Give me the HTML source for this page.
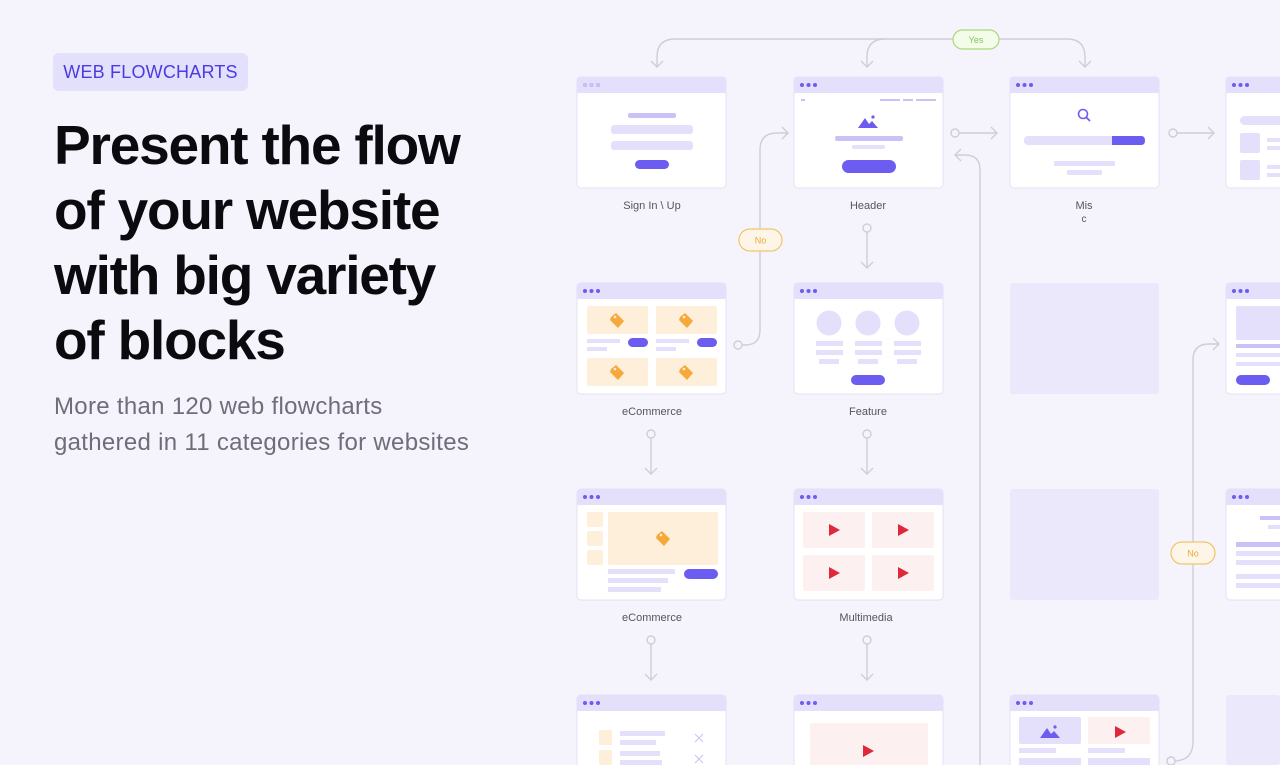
<!DOCTYPE html>
<html><head><meta charset="utf-8">
<style>
html,body{margin:0;padding:0;width:1280px;height:765px;overflow:hidden;}
body{background:#f5f4fd;position:relative;font-family:"Liberation Sans",sans-serif;}
.badge{position:absolute;left:53px;top:53px;width:195px;height:38px;background:#e3e0fb;border-radius:6px;color:#4a3be2;font-size:18px;line-height:38px;text-align:center;letter-spacing:0.2px;}
h1{position:absolute;left:54px;top:113px;margin:0;font-size:55px;line-height:65px;font-weight:bold;color:#0b0b0f;letter-spacing:-1.2px;white-space:nowrap;}
.sub{position:absolute;left:54px;top:389px;font-size:24px;line-height:36px;color:#6e6d7a;letter-spacing:0.3px;white-space:nowrap;}
svg{position:absolute;left:0;top:0;overflow:hidden;}
</style></head><body>
<div class="badge">WEB FLOWCHARTS</div>
<h1>Present the flow<br>of your website<br>with big variety<br>of blocks</h1>
<div class="sub">More than 120 web flowcharts<br>gathered in 11 categories for websites</div>
<svg width="1280" height="765" viewBox="0 0 1280 765" xmlns="http://www.w3.org/2000/svg" font-family="Liberation Sans, sans-serif">
<defs>
<g id="frame"><rect x="0" y="0" width="149" height="111" rx="4" fill="#fff" stroke="#e4e1f3"/><path d="M4 0 H145 Q149 0 149 4 V16 H0 V4 Q0 0 4 0Z" fill="#e4e0fb"/><circle cx="8" cy="8" r="2" fill="#6c5cf0"/><circle cx="14.5" cy="8" r="2" fill="#6c5cf0"/><circle cx="21" cy="8" r="2" fill="#6c5cf0"/></g>
<g id="tag2"><path d="M-6,-4 L-1,-8 L7,0 L1,7 L-7,-1 Z" fill="#f6a83a"/><circle cx="-2" cy="-4" r="1.3" fill="#fdefd9"/></g>
<g id="play2"><path d="M-5,-6 L6,0 L-5,6 Z" fill="#e0283b"/></g>
<g id="mtn2"><path d="M-10,6 L-3,-4 L1,2 L4,-1 L10,6 Z" fill="#6c5cf0"/><circle cx="5" cy="-5" r="1.6" fill="#6c5cf0"/></g>
</defs>
<g fill="none" stroke="#cfcdd8" stroke-width="1.4">
<path d="M953 39 H675 Q657 39 657 57 V67"/><path d="M651 61 L657 67 L663 61"/>
<path d="M885 39 Q867 39 867 57 V67"/><path d="M861 61 L867 67 L873 61"/>
<path d="M999 39 H1067 Q1085 39 1085 57 V67"/><path d="M1079 61 L1085 67 L1091 61"/>
<path d="M959 133 H997"/><path d="M991 127 L997 133 L991 139"/>
<path d="M1177 133 H1214"/><path d="M1208 127 L1214 133 L1208 139"/>
<path d="M955 155 H965 Q980 155 980 170 V765"/><path d="M961 149 L955 155 L961 161"/>
<path d="M742 345 H745 Q760 345 760 330 V150 Q760 133 777 133 H788"/><path d="M782 127 L788 133 L782 139"/>
<path d="M867 232 V268"/><path d="M861 262 L867 268 L873 262"/>
<path d="M651 438 V474"/><path d="M645 468 L651 474 L657 468"/>
<path d="M867 438 V474"/><path d="M861 468 L867 474 L873 468"/>
<path d="M651 644 V680"/><path d="M645 674 L651 680 L657 674"/>
<path d="M867 644 V680"/><path d="M861 674 L867 680 L873 674"/>
<path d="M1175 761 Q1193 760 1193 742 V360 Q1193 344 1209 344 H1219"/><path d="M1213 338 L1219 344 L1213 350"/>
</g>
<g fill="#f5f4fd" stroke="#cfcdd8" stroke-width="1.4">
<circle cx="955" cy="133" r="4"/><circle cx="1173" cy="133" r="4"/><circle cx="738" cy="345" r="4"/>
<circle cx="867" cy="228" r="4"/><circle cx="651" cy="434" r="4"/><circle cx="867" cy="434" r="4"/>
<circle cx="651" cy="640" r="4"/><circle cx="867" cy="640" r="4"/><circle cx="1171" cy="761" r="4"/>
</g>
<rect x="953" y="30" width="46" height="19" rx="9.5" fill="#f3fbe9" stroke="#a8d97a" stroke-width="1.2"/>
<text x="976" y="43" font-size="9" fill="#8cc45a" text-anchor="middle">Yes</text>
<rect x="739" y="229" width="43" height="22" rx="11" fill="#fdf6e8" stroke="#f2c46a" stroke-width="1.2"/>
<text x="760.5" y="243.5" font-size="9" fill="#e8a93a" text-anchor="middle">No</text>
<rect x="1171" y="542" width="44" height="22" rx="11" fill="#fdf6e8" stroke="#f2c46a" stroke-width="1.2"/>
<text x="1193" y="556.5" font-size="9" fill="#e8a93a" text-anchor="middle">No</text>
<rect x="1010" y="283" width="149" height="111" rx="3" fill="#ebe8fc"/>
<rect x="1010" y="489" width="149" height="111" rx="3" fill="#ebe8fc"/>
<rect x="1226" y="695" width="54" height="70" rx="3" fill="#ebe8fc"/>

<g transform="translate(577,77)"><use href="#frame"/><circle cx="8" cy="8" r="2" fill="#c9c2f5"/><circle cx="14.5" cy="8" r="2" fill="#c9c2f5"/><circle cx="21" cy="8" r="2" fill="#c9c2f5"/>
<rect x="51" y="36" width="48" height="5" rx="2" fill="#c9c2f7"/>
<rect x="34" y="48" width="82" height="9" rx="3" fill="#e4e0fb"/>
<rect x="34" y="64" width="82" height="9" rx="3" fill="#e4e0fb"/>
<rect x="58" y="83" width="34" height="9" rx="4.5" fill="#6c5cf0"/></g>
<text x="652" y="209" font-size="11" fill="#55545f" text-anchor="middle">Sign In \ Up</text>
<g transform="translate(794,77)"><use href="#frame"/>
<rect x="7" y="22" width="4" height="2" fill="#c9c2f7"/><rect x="86" y="22" width="20" height="2" fill="#c9c2f7"/><rect x="109" y="22" width="10" height="2" fill="#c9c2f7"/><rect x="122" y="22" width="20" height="2" fill="#c9c2f7"/>
<use href="#mtn2" x="74" y="45"/>
<rect x="41" y="59" width="68" height="5" rx="2" fill="#c9c2f7"/>
<rect x="58" y="68" width="33" height="4" rx="2" fill="#e4e0fb"/>
<rect x="48" y="83" width="54" height="13" rx="6.5" fill="#6c5cf0"/></g>
<text x="868" y="209" font-size="11" fill="#55545f" text-anchor="middle">Header</text>
<g transform="translate(1010,77)"><use href="#frame"/>
<circle cx="73" cy="37" r="4.5" fill="none" stroke="#6c5cf0" stroke-width="1.6"/><path d="M76.5 40.5 L80 44" stroke="#6c5cf0" stroke-width="1.8"/>
<rect x="14" y="59" width="121" height="9" rx="4" fill="#e4e0fb"/><path d="M102 59 H131 Q135 59 135 63.5 Q135 68 131 68 H102Z" fill="#6c5cf0"/>
<rect x="44" y="84" width="61" height="5" rx="1" fill="#e4e0fb"/><rect x="57" y="93" width="35" height="5" rx="1" fill="#e4e0fb"/></g>
<text x="1084" y="209" font-size="11" fill="#55545f" text-anchor="middle">Mis</text>
<text x="1084" y="222" font-size="10" fill="#55545f" text-anchor="middle">c</text>
<g transform="translate(1226,77)"><use href="#frame"/>
<rect x="14" y="39" width="60" height="9" rx="4.5" fill="#e4e0fb"/>
<rect x="14" y="56" width="20" height="20" rx="2" fill="#e4e0fb"/><rect x="14" y="83" width="20" height="20" rx="2" fill="#e4e0fb"/>
<rect x="41" y="61" width="30" height="4" fill="#e4e0fb"/><rect x="41" y="69" width="30" height="4" fill="#e4e0fb"/>
<rect x="41" y="88" width="30" height="4" fill="#e4e0fb"/><rect x="41" y="96" width="30" height="4" fill="#e4e0fb"/></g>
<g transform="translate(577,283)"><use href="#frame"/>
<rect x="10" y="23" width="61" height="28" rx="2" fill="#fdefd9"/><rect x="79" y="23" width="61" height="28" rx="2" fill="#fdefd9"/>
<rect x="10" y="75" width="61" height="28" rx="2" fill="#fdefd9"/><rect x="79" y="75" width="61" height="28" rx="2" fill="#fdefd9"/>
<use href="#tag2" x="40" y="38"/><use href="#tag2" x="109" y="38"/><use href="#tag2" x="40" y="90"/><use href="#tag2" x="109" y="90"/>
<rect x="10" y="56" width="33" height="4" fill="#e4e0fb"/><rect x="10" y="64" width="20" height="4" fill="#e4e0fb"/><rect x="51" y="55" width="20" height="9" rx="4.5" fill="#6c5cf0"/>
<rect x="79" y="56" width="33" height="4" fill="#e4e0fb"/><rect x="79" y="64" width="20" height="4" fill="#e4e0fb"/><rect x="120" y="55" width="20" height="9" rx="4.5" fill="#6c5cf0"/></g>
<text x="652" y="415" font-size="11" fill="#55545f" text-anchor="middle">eCommerce</text>
<g transform="translate(794,283)"><use href="#frame"/>
<circle cx="35" cy="40" r="12.5" fill="#e4e0fb"/><circle cx="74" cy="40" r="12.5" fill="#e4e0fb"/><circle cx="113" cy="40" r="12.5" fill="#e4e0fb"/>
<g fill="#e4e0fb"><rect x="22" y="58" width="27" height="5"/><rect x="22" y="67" width="27" height="5"/><rect x="25" y="76" width="20" height="5"/>
<rect x="61" y="58" width="27" height="5"/><rect x="61" y="67" width="27" height="5"/><rect x="64" y="76" width="20" height="5"/>
<rect x="100" y="58" width="27" height="5"/><rect x="100" y="67" width="27" height="5"/><rect x="103" y="76" width="20" height="5"/></g>
<rect x="57" y="92" width="34" height="10" rx="5" fill="#6c5cf0"/></g>
<text x="868" y="415" font-size="11" fill="#55545f" text-anchor="middle">Feature</text>
<g transform="translate(1226,283)"><use href="#frame"/>
<rect x="10" y="23" width="60" height="34" rx="2" fill="#e4e0fb"/>
<rect x="10" y="61" width="60" height="4" fill="#c9c2f7"/><rect x="10" y="70" width="60" height="4" fill="#e4e0fb"/><rect x="10" y="79" width="60" height="4" fill="#e4e0fb"/>
<rect x="10" y="92" width="34" height="10" rx="5" fill="#6c5cf0"/></g>
<g transform="translate(577,489)"><use href="#frame"/>
<rect x="10" y="23" width="16" height="15" rx="2" fill="#fdefd9"/><rect x="10" y="42" width="16" height="15" rx="2" fill="#fdefd9"/><rect x="10" y="61" width="16" height="15" rx="2" fill="#fdefd9"/>
<rect x="31" y="23" width="110" height="53" rx="2" fill="#fdefd9"/><use href="#tag2" x="86" y="50"/>
<rect x="31" y="80" width="67" height="5" fill="#e4e0fb"/><rect x="31" y="89" width="60" height="5" fill="#e4e0fb"/><rect x="31" y="98" width="53" height="5" fill="#e4e0fb"/>
<rect x="107" y="80" width="34" height="10" rx="5" fill="#6c5cf0"/></g>
<text x="652" y="621" font-size="11" fill="#55545f" text-anchor="middle">eCommerce</text>
<g transform="translate(794,489)"><use href="#frame"/>
<rect x="9" y="23" width="62" height="36" rx="2" fill="#fdf0f0"/><rect x="78" y="23" width="62" height="36" rx="2" fill="#fdf0f0"/>
<rect x="9" y="66" width="62" height="36" rx="2" fill="#fdf0f0"/><rect x="78" y="66" width="62" height="36" rx="2" fill="#fdf0f0"/>
<use href="#play2" x="40" y="41"/><use href="#play2" x="109" y="41"/><use href="#play2" x="40" y="84"/><use href="#play2" x="109" y="84"/></g>
<text x="866" y="621" font-size="11" fill="#55545f" text-anchor="middle">Multimedia</text>
<g transform="translate(1226,489)"><use href="#frame"/>
<rect x="34" y="27" width="30" height="4" fill="#c9c2f7"/><rect x="42" y="36" width="22" height="4" fill="#e4e0fb"/>
<rect x="10" y="53" width="60" height="5" fill="#c9c2f7"/><rect x="10" y="62" width="60" height="5" fill="#e4e0fb"/><rect x="10" y="71" width="60" height="5" fill="#e4e0fb"/>
<rect x="10" y="85" width="60" height="5" fill="#e4e0fb"/><rect x="10" y="94" width="60" height="5" fill="#e4e0fb"/></g>
<g transform="translate(577,695)"><use href="#frame"/>
<rect x="22" y="35" width="13" height="15" rx="1" fill="#fdefd9"/><rect x="43" y="36" width="45" height="5" fill="#e4e0fb"/><rect x="43" y="45" width="36" height="5" fill="#e4e0fb"/>
<path d="M118 39 L126 47 M126 39 L118 47" stroke="#c9c2f7" stroke-width="1"/>
<rect x="22" y="55" width="13" height="15" rx="1" fill="#fdefd9"/><rect x="43" y="56" width="40" height="5" fill="#e4e0fb"/><rect x="43" y="65" width="42" height="5" fill="#e4e0fb"/>
<path d="M118 60 L126 68 M126 60 L118 68" stroke="#c9c2f7" stroke-width="1"/></g>
<g transform="translate(794,695)"><use href="#frame"/>
<rect x="16" y="28" width="118" height="60" rx="2" fill="#fdf0f0"/><use href="#play2" x="74" y="56"/></g>
<g transform="translate(1010,695)"><use href="#frame"/>
<rect x="9" y="22" width="62" height="27" rx="2" fill="#e4e0fb"/><use href="#mtn2" x="40" y="37"/>
<rect x="78" y="22" width="62" height="27" rx="2" fill="#fdf0f0"/><use href="#play2" x="110" y="37"/>
<rect x="9" y="53" width="37" height="5" fill="#e4e0fb"/><rect x="78" y="53" width="37" height="5" fill="#e4e0fb"/>
<rect x="9" y="63" width="62" height="10" fill="#e4e0fb"/><rect x="78" y="63" width="62" height="10" fill="#e4e0fb"/></g>
<circle cx="1171" cy="761" r="4" fill="#f5f4fd" stroke="#cfcdd8" stroke-width="1.4"/>
</svg>
</body></html>
